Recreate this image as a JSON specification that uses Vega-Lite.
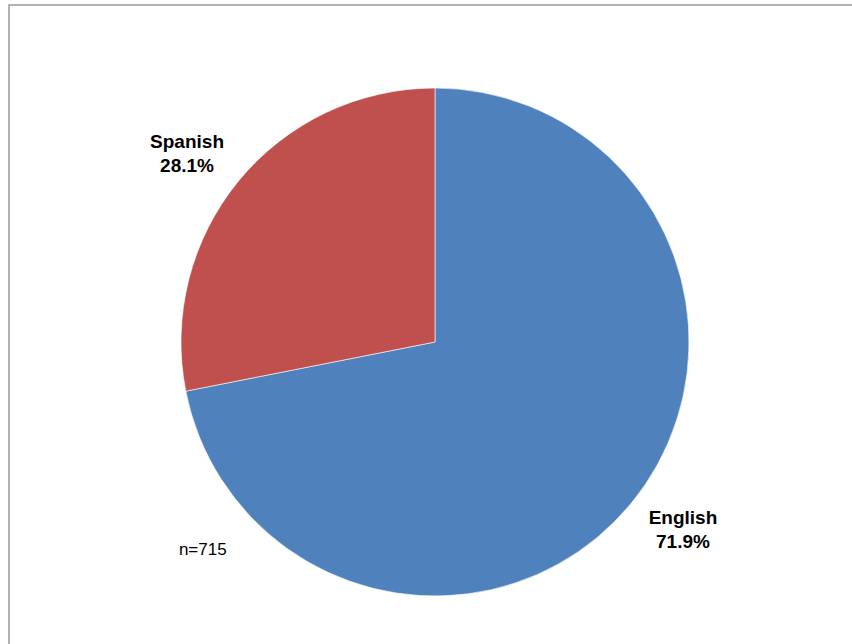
{
  "$schema": "https://vega.github.io/schema/vega-lite/v6.json",
  "autosize": {"type": "none"},
  "padding": {"left": 9, "top": 5, "right": 0, "bottom": 0},
  "width": 852,
  "height": 674,
  "background": "white",
  "view": {"stroke": "#9a9a9a", "strokeWidth": 1.5, "fill": "white"},
  "config": {"font": "Liberation Sans"},
  "data": {"values": [
    {"language": "English", "share": 0.719, "idx": 1},
    {"language": "Spanish", "share": 0.281, "idx": 2}
  ]},
  "resolve": {"scale": {"theta": "independent"}},
  "layer": [
    {
      "mark": {"type": "arc", "outerRadius": 254, "stroke": "#ffffff", "strokeWidth": 0.6},
      "encoding": {
        "theta": {"field": "share", "type": "quantitative", "stack": true},
        "order": {"field": "idx", "type": "quantitative"},
        "color": {"field": "language", "type": "nominal", "legend": null,
          "scale": {"domain": ["English", "Spanish"], "range": ["#4F81BD", "#C0504D"]}}
      }
    },
    {
      "mark": {"type": "text", "radius": 311, "dy": -12, "fontSize": 19, "fontWeight": "bold", "color": "black"},
      "encoding": {
        "theta": {"field": "share", "type": "quantitative", "stack": true, "scale": {"domain": [0, 1], "range": [-0.04, 6.2432]}},
        "order": {"field": "idx", "type": "quantitative"},
        "text": {"field": "language", "type": "nominal"}
      }
    },
    {
      "mark": {"type": "text", "radius": 311, "dy": 12, "fontSize": 19, "fontWeight": "bold", "color": "black"},
      "encoding": {
        "theta": {"field": "share", "type": "quantitative", "stack": true, "scale": {"domain": [0, 1], "range": [-0.04, 6.2432]}},
        "order": {"field": "idx", "type": "quantitative"},
        "text": {"field": "share", "type": "quantitative", "format": ".1%"}
      }
    },
    {
      "data": {"values": [{"note": "n=715", "angle": 0.6336}]},
      "mark": {"type": "text", "radius": 312, "fontSize": 17, "color": "black"},
      "encoding": {
        "theta": {"field": "angle", "type": "quantitative", "stack": null, "scale": {"domain": [0, 1]}},
        "text": {"field": "note", "type": "nominal"}
      }
    }
  ]
}
